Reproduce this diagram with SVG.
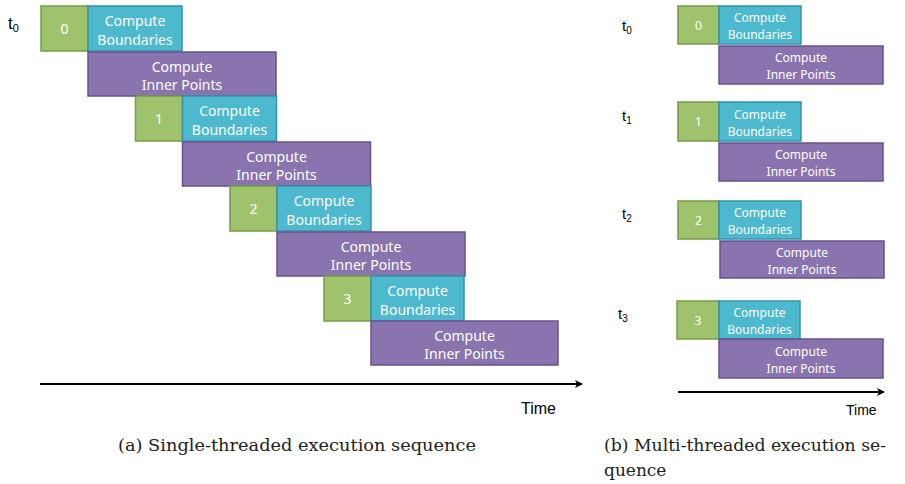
<svg xmlns="http://www.w3.org/2000/svg" width="905" height="484" viewBox="0 0 905 484">
<style>
.g{fill:#9fc36c;stroke:#789b47;stroke-width:1.5}
.c{fill:#4db9cf;stroke:#3793aa;stroke-width:1.5}
.p{fill:#8974b0;stroke:#65518c;stroke-width:1.5}
.bt{font-family:"Noto Sans","Open Sans",sans-serif;font-size:14px;fill:#ffffff;text-anchor:middle}
.st{font-family:"Noto Sans","Open Sans",sans-serif;font-size:12px;fill:#ffffff;text-anchor:middle}
.lab{font-family:"Liberation Sans",Arial,sans-serif;fill:#000}
.cap{font-family:"DejaVu Serif","Liberation Serif",serif;font-size:17px;fill:#222}
.ax{stroke:#000;stroke-width:2;fill:none}
</style>
<defs>
<marker id="ah" markerWidth="10" markerHeight="10" refX="8" refY="5" orient="auto" markerUnits="userSpaceOnUse">
<path d="M1,1 L9,5 L1,9 L3,5 Z" fill="#000"/>
</marker>
</defs>

<!-- Left panel: single-threaded -->
<g id="left-t0-label"><text class="lab" x="8" y="29" font-size="17">t<tspan font-size="11" dy="3">0</tspan></text></g>

<g id="left-step0">
<rect class="g" x="41" y="6" width="47" height="45"/>
<text class="bt" x="64.5" y="34">0</text>
<rect class="c" x="88" y="6" width="94" height="45"/>
<text class="bt" x="135" y="26">Compute</text>
<text class="bt" x="135" y="45">Boundaries</text>
<rect class="p" x="88" y="52" width="188" height="44"/>
<text class="bt" x="182" y="72">Compute</text>
<text class="bt" x="182" y="90">Inner Points</text>
</g>

<g id="left-step1">
<rect class="g" x="135.5" y="96" width="47" height="45"/>
<text class="bt" x="159" y="124">1</text>
<rect class="c" x="182.5" y="96" width="94" height="45"/>
<text class="bt" x="229.5" y="116">Compute</text>
<text class="bt" x="229.5" y="135">Boundaries</text>
<rect class="p" x="182.5" y="142" width="188" height="44"/>
<text class="bt" x="276.5" y="162">Compute</text>
<text class="bt" x="276.5" y="180">Inner Points</text>
</g>

<g id="left-step2">
<rect class="g" x="230" y="186" width="47" height="45"/>
<text class="bt" x="253.5" y="214">2</text>
<rect class="c" x="277" y="186" width="94" height="45"/>
<text class="bt" x="324" y="206">Compute</text>
<text class="bt" x="324" y="225">Boundaries</text>
<rect class="p" x="277" y="232" width="188" height="44"/>
<text class="bt" x="371" y="252">Compute</text>
<text class="bt" x="371" y="270">Inner Points</text>
</g>

<g id="left-step3">
<rect class="g" x="324" y="276" width="47" height="45"/>
<text class="bt" x="347.5" y="304">3</text>
<rect class="c" x="371" y="276" width="93" height="45"/>
<text class="bt" x="417.5" y="296">Compute</text>
<text class="bt" x="417.5" y="315">Boundaries</text>
<rect class="p" x="371" y="321" width="187" height="44"/>
<text class="bt" x="464.5" y="341">Compute</text>
<text class="bt" x="464.5" y="359">Inner Points</text>
</g>

<!-- Right panel: multi-threaded -->
<g id="right-t0">
<text class="lab" x="622" y="31" font-size="15">t<tspan font-size="10" dy="3">0</tspan></text>
<rect class="g" x="678" y="6" width="41" height="38"/>
<text class="st" x="698.5" y="30">0</text>
<rect class="c" x="719" y="6" width="82" height="38"/>
<text class="st" x="760" y="22">Compute</text>
<text class="st" x="760" y="39">Boundaries</text>
<rect class="p" x="719" y="46" width="164" height="38"/>
<text class="st" x="801" y="62">Compute</text>
<text class="st" x="801" y="79">Inner Points</text>
</g>

<g id="right-t1">
<text class="lab" x="622" y="121" font-size="15">t<tspan font-size="10" dy="3">1</tspan></text>
<rect class="g" x="678" y="102" width="41" height="39"/>
<text class="st" x="698.5" y="126">1</text>
<rect class="c" x="719" y="102" width="82" height="39"/>
<text class="st" x="760" y="119">Compute</text>
<text class="st" x="760" y="136">Boundaries</text>
<rect class="p" x="719" y="143" width="164" height="38"/>
<text class="st" x="801" y="159">Compute</text>
<text class="st" x="801" y="176">Inner Points</text>
</g>

<g id="right-t2">
<text class="lab" x="622" y="219" font-size="15">t<tspan font-size="10" dy="3">2</tspan></text>
<rect class="g" x="678" y="201" width="41" height="38"/>
<text class="st" x="698.5" y="225">2</text>
<rect class="c" x="719" y="201" width="82" height="38"/>
<text class="st" x="760" y="217">Compute</text>
<text class="st" x="760" y="234">Boundaries</text>
<rect class="p" x="720" y="241" width="164" height="37"/>
<text class="st" x="802" y="257">Compute</text>
<text class="st" x="802" y="274">Inner Points</text>
</g>

<g id="right-t3">
<text class="lab" x="618" y="319" font-size="15">t<tspan font-size="10" dy="3">3</tspan></text>
<rect class="g" x="677" y="301" width="42" height="38"/>
<text class="st" x="698" y="325">3</text>
<rect class="c" x="719" y="301" width="81" height="38"/>
<text class="st" x="759.5" y="317">Compute</text>
<text class="st" x="759.5" y="334">Boundaries</text>
<rect class="p" x="719" y="339" width="164" height="39"/>
<text class="st" x="801" y="356">Compute</text>
<text class="st" x="801" y="373">Inner Points</text>
</g>

<!-- Connectors: time axes -->
<g id="connectors">
<line class="ax" x1="40" y1="384" x2="582" y2="384" marker-end="url(#ah)"/>
<line class="ax" x1="678" y1="392" x2="884" y2="392" marker-end="url(#ah)"/>
</g>

<g id="labels">
<text class="lab" x="521" y="414" font-size="16">Time</text>
<text class="lab" x="846" y="415" font-size="14">Time</text>
<text class="cap" x="118" y="451" textLength="358" lengthAdjust="spacingAndGlyphs">(a)  Single-threaded execution sequence</text>
<text class="cap" x="604" y="451" textLength="282" lengthAdjust="spacingAndGlyphs">(b)  Multi-threaded execution se-</text>
<text class="cap" x="604" y="476">quence</text>
</g>
</svg>
